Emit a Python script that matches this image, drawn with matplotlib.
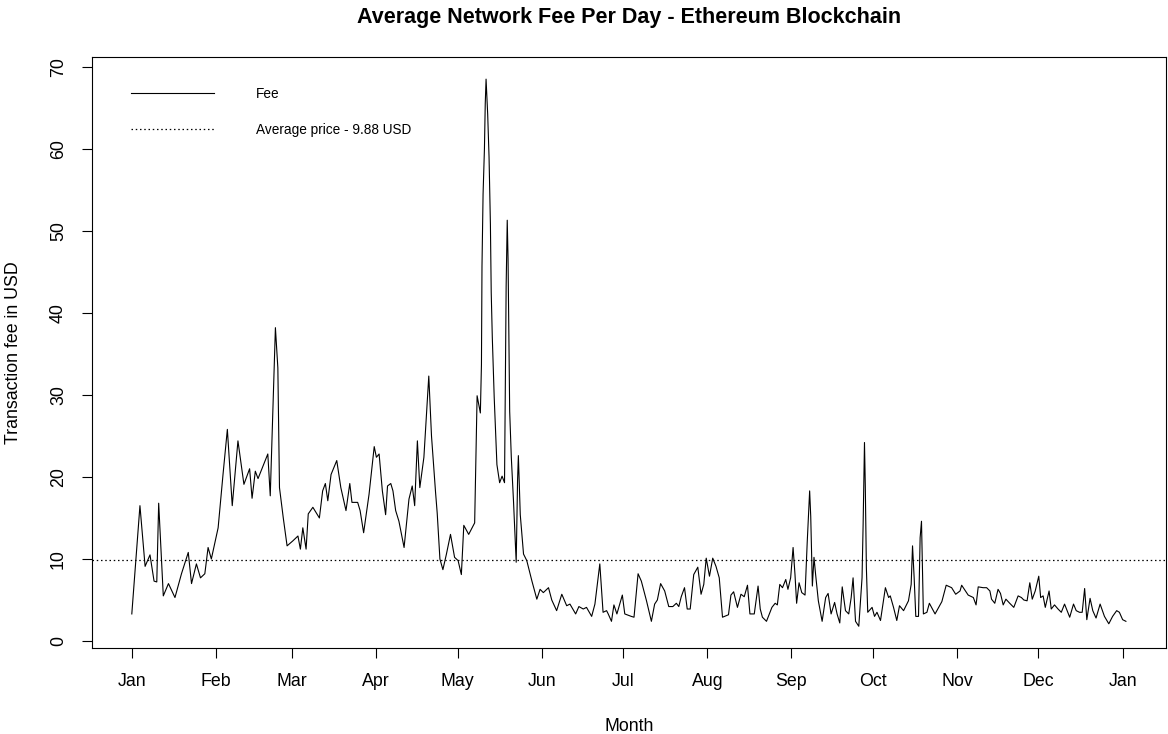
import matplotlib
matplotlib.use("Agg")
import matplotlib.pyplot as plt
import numpy as np

plt.rcParams['font.family'] = ['Liberation Sans', 'DejaVu Sans']

# day of year (0 = Jan 1) and average fee in USD
days = [0.0, 3.0, 4.9, 6.7, 8.2, 9.2, 9.9, 11.6, 13.5, 15.9, 18.3, 20.8, 22.0, 23.8, 25.3, 26.9, 28.1, 29.3,
        31.8, 33.6, 35.2, 37.0, 39.1, 41.3, 43.4, 44.3, 45.5, 46.5, 50.1, 51.0, 52.9, 53.8, 54.4, 55.8, 57.2,
        59.3, 61.2, 62.1, 63.0, 64.2, 65.0, 66.7, 69.1, 70.3, 71.3, 72.2, 73.4, 75.5, 77.0, 78.9, 80.3, 81.1,
        83.2, 84.1, 85.4, 87.4, 89.3, 90.1, 91.1, 92.3, 93.5, 94.2, 95.4, 96.2, 97.2, 98.4, 100.3, 102.1, 103.3,
        104.2, 105.2, 106.1, 107.6, 109.4, 110.4, 111.9, 112.5, 113.5, 114.6, 115.9, 117.4, 118.9, 120.2, 121.4,
        122.3, 124.1, 126.3, 127.2, 128.4, 128.8, 129.0, 129.4, 129.9, 130.2, 130.5, 131.1, 131.6, 132.1, 132.4,
        132.8, 133.5, 134.5, 135.5, 136.4, 137.3, 137.9, 138.3, 138.6, 138.9, 139.2, 139.8, 140.6, 141.2, 141.6,
        142.1, 142.4, 143.1, 144.3, 145.5, 147.4, 149.2, 150.4, 151.6, 153.5,
        154.7, 156.5, 158.4, 160.2, 161.4, 163.5, 164.7, 166.3, 167.5, 169.4, 170.6, 172.4, 173.6, 174.9, 175.5,
        176.7, 177.6, 178.7, 180.7, 181.6, 184.0, 185.0, 186.5, 187.7, 189.6, 191.4, 192.6, 193.6, 194.8, 196.3,
        197.8, 199.3, 200.6, 201.5, 202.4, 203.6, 204.6, 205.7, 207.0,
        208.5, 209.7, 210.7, 211.6, 212.8, 214.0, 215.2, 216.4, 217.6, 219.8, 220.7, 221.7, 223.1, 224.4, 225.6,
        226.8, 227.7, 229.3, 230.7, 231.5, 232.3, 233.8, 235.8, 237.0, 237.8, 238.7, 239.7, 240.9, 241.7, 242.7,
        243.6, 244.3, 244.9, 245.8, 246.8, 248.0, 248.8, 249.7, 250.1, 250.7, 251.3, 251.9, 252.9, 254.3, 255.6,
        256.5, 257.6, 258.9, 259.8, 260.8, 261.7, 262.9,
        264.1, 265.0, 265.7, 266.6, 267.8, 269.0, 269.4, 269.9, 270.2, 270.6, 271.1, 272.7, 273.6, 274.5, 275.8,
        277.6, 278.8, 279.4, 280.6, 281.8, 282.8, 284.3, 286.1, 287.1, 287.6, 288.2, 288.8, 289.8, 290.4, 290.9,
        291.4, 291.6, 292.9, 293.8, 295.9, 298.4, 300.0, 302.0, 303.5, 305.1, 305.7, 307.3, 308.1, 310.0, 311.0,
        311.8, 313.6, 314.9, 316.1,
        316.7, 317.9, 319.1, 320.0, 321.0, 322.0, 323.4, 324.9, 326.5, 327.7, 328.6, 329.8, 330.8, 331.7, 332.8,
        333.5, 334.1, 334.8, 335.7, 336.5, 337.9, 338.7, 339.9, 341.2, 342.4, 343.6, 345.5, 346.9, 347.9, 349.1,
        350.1, 351.0, 351.8, 353.0, 354.0, 355.2, 356.7, 358.3, 359.9, 361.3, 362.8, 363.8, 365.0, 366.2]

fee = [3.3, 16.5, 9.1, 10.5, 7.3, 7.2, 16.8, 5.5, 7.0, 5.3, 8.2, 10.8, 7.0, 9.4, 7.7, 8.2, 11.4, 10.0,
       13.8, 20.3, 25.8, 16.5, 24.4, 19.1, 21.0, 17.4, 20.7, 19.8, 22.8, 17.7, 38.2, 33.3, 18.7, 15.0, 11.6,
       12.2, 12.8, 11.2, 13.8, 11.2, 15.5, 16.3, 15.0, 18.3, 19.2, 17.1, 20.3, 22.0, 18.7, 15.9, 19.2, 16.9,
       16.9, 15.9, 13.2, 17.9, 23.7, 22.4, 22.8, 18.3, 15.4, 18.9, 19.2, 18.3, 15.9, 14.6, 11.4, 17.3, 18.9,
       16.5, 24.4, 18.7, 22.4, 32.3, 25.0, 18.1, 15.6, 10.0, 8.7, 10.6, 13.0, 10.2, 9.8, 8.1,
       14.1, 13.0, 14.4, 29.9, 27.8, 33.7, 45.7, 54.5, 60.0, 65.5, 68.5, 64.2, 59.0, 50.8, 42.5,
       37.0, 29.7, 21.5, 19.3, 20.1, 19.3, 43.3, 51.3, 46.6, 37.2, 28.0, 22.4, 17.1, 12.6, 9.6,
       19.5, 22.6, 15.4, 10.6, 9.8, 7.3, 5.1, 6.3, 5.9, 6.5,
       5.0, 3.7, 5.7, 4.3, 4.5, 3.3, 4.2, 3.9, 4.1, 3.0, 4.5, 9.4, 3.5, 3.7, 3.3,
       2.4, 4.4, 3.3, 5.6, 3.3, 3.0, 2.9, 8.2, 7.3, 4.9, 2.4, 4.5, 5.0, 7.0, 6.1,
       4.2, 4.2, 4.6, 4.2, 5.4, 6.5, 3.9, 3.9, 8.1,
       9.0, 5.7, 6.9, 10.1, 7.9, 10.1, 9.1, 7.7, 2.9, 3.2, 5.6, 6.0, 4.1, 5.7, 5.4,
       6.8, 3.3, 3.3, 6.7, 3.9, 2.9, 2.4, 4.1, 4.6, 4.4, 6.9, 6.5, 7.5, 6.3, 7.7,
       11.4, 8.1, 4.6, 7.1, 5.9, 5.6, 12.0, 18.3, 15.2, 6.7, 10.2, 8.1, 4.9, 2.4, 5.3,
       5.8, 3.3, 4.7, 3.3, 2.2, 6.6, 3.7,
       3.3, 5.3, 7.7, 2.4, 1.8, 7.7, 14.2, 24.2, 18.9, 8.9, 3.5, 4.1, 3.0, 3.5, 2.5,
       6.5, 5.3, 5.5, 4.1, 2.5, 4.3, 3.7, 4.9, 6.9, 11.6, 7.7, 3.0, 3.0, 12.6, 14.6,
       6.1, 3.3, 3.5, 4.6, 3.3, 4.8, 6.8, 6.5, 5.7, 6.1, 6.8, 6.0, 5.6, 5.3, 4.4,
       6.6, 6.5, 6.5, 6.1,
       5.1, 4.6, 6.3, 5.8, 4.4, 5.1, 4.6, 4.1, 5.5, 5.3, 5.0, 4.9, 7.1, 5.1, 6.1,
       7.1, 7.9, 5.3, 5.5, 4.1, 6.1, 3.9, 4.4, 3.9, 3.5, 4.5, 2.9, 4.5, 3.7, 3.5,
       3.5, 6.4, 2.6, 5.2, 3.7, 2.8, 4.5, 3.0, 2.1, 3.0, 3.7, 3.5, 2.6, 2.4]

avg_fee = 9.88
month_labels = ['Jan', 'Feb', 'Mar', 'Apr', 'May', 'Jun', 'Jul', 'Aug', 'Sep', 'Oct', 'Nov', 'Dec', 'Jan']
month_starts = [0, 31, 59, 90, 120, 151, 181, 212, 243, 273, 304, 334, 365]

fig = plt.figure(figsize=(11.68, 7.34), dpi=100)
ax = fig.add_axes([0.0788, 0.117, 0.9192, 0.805])

ax.plot(days, fee, color='black', linewidth=0.8, label='Fee')
ax.axhline(avg_fee, color='black', linewidth=0.9, linestyle=(0, (1.2, 2.2)),
           label='Average price - %.2f USD' % avg_fee)

# R-style 4% padding around the data range
xr = max(days) - min(days)
yr = max(fee) - min(fee)
ax.set_xlim(min(days) - 0.04 * xr, max(days) + 0.04 * xr)
ax.set_ylim(min(fee) - 0.04 * yr, max(fee) + 0.04 * yr)

ax.set_xticks(month_starts)
ax.set_xticklabels(month_labels)
ax.set_yticks(np.arange(0, 71, 10))
ax.set_yticklabels([str(v) for v in range(0, 71, 10)], rotation=90, va='center')
ax.tick_params(direction='out', length=7, width=0.8, labelsize=12.8, pad=11)
for s in ax.spines.values():
    s.set_linewidth(0.8)

ax.set_title('Average Network Fee Per Day - Ethereum Blockchain', fontsize=15.5, fontweight='bold', pad=25)
ax.set_xlabel('Month', fontsize=12.8, labelpad=20)
ax.set_ylabel('Transaction fee in USD', fontsize=12.8, labelpad=20)

ax.legend(loc='upper left', bbox_to_anchor=(0.025, 0.97), frameon=False, fontsize=9.8,
          handlelength=6.1, handletextpad=3.1, labelspacing=1.6)

fig.savefig('out.png', dpi=100)
